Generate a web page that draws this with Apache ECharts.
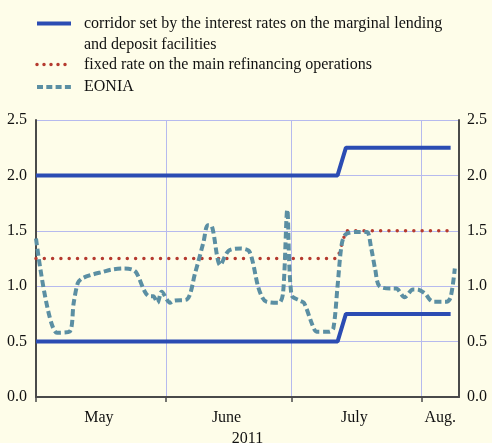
<!DOCTYPE html>
<head>
<meta charset="utf-8">
<title>EONIA corridor</title>
<script src="https://cdn.jsdelivr.net/npm/echarts@6/dist/echarts.min.js"></script>
<style>
  html, body { margin: 0; padding: 0; background: #fefde9; }
</style>
</head>
<body>
<div id="main" style="width:492px;height:443px"></div>
<script type="text/javascript">
// series names (legend)
var corridorName = 'corridor set by the interest rates on the marginal lending and deposit facilities';
var mroName = 'fixed rate on the main refinancing operations';
var eoniaName = 'EONIA';

// policy rates (steps)
var rateDates = ['2011-05-01', '2011-07-12', '2011-07-14', '2011-08-08'];
var upperRate = [2.00, 2.00, 2.25, 2.25];
var lowerRate = [0.50, 0.50, 0.75, 0.75];
var mroRate   = [1.25, 1.25, 1.50, 1.50];

// EONIA
var eoniaDates = [
  '2011-05-01', '2011-05-06', '2011-05-09', '2011-05-10', '2011-05-11', '2011-05-12',
  '2011-05-14', '2011-05-17', '2011-05-19', '2011-05-22', '2011-05-24', '2011-05-25',
  '2011-05-27', '2011-05-28', '2011-05-29', '2011-05-30', '2011-05-31', '2011-06-02',
  '2011-06-03', '2011-06-06', '2011-06-08', '2011-06-10', '2011-06-11', '2011-06-12',
  '2011-06-14', '2011-06-16', '2011-06-19', '2011-06-21', '2011-06-23', '2011-06-24',
  '2011-06-25', '2011-06-28', '2011-06-29', '2011-06-30', '2011-07-01', '2011-07-03',
  '2011-07-04', '2011-07-06', '2011-07-07', '2011-07-10', '2011-07-11', '2011-07-12',
  '2011-07-13', '2011-07-14', '2011-07-17', '2011-07-19', '2011-07-20', '2011-07-21',
  '2011-07-22', '2011-07-25', '2011-07-26', '2011-07-28', '2011-07-30', '2011-07-31',
  '2011-08-02', '2011-08-03', '2011-08-04', '2011-08-07', '2011-08-08', '2011-08-09'
];
var eoniaValues = [
  1.43, 0.58, 0.59, 0.85, 1.03, 1.07,
  1.10, 1.13, 1.15, 1.16, 1.15, 1.12,
  0.95, 0.91, 0.91, 0.85, 0.95, 0.85,
  0.87, 0.88, 1.12, 1.40, 1.55, 1.54,
  1.19, 1.32, 1.34, 1.31, 1.00, 0.90,
  0.86, 0.85, 0.94, 1.69, 0.92, 0.87,
  0.85, 0.65, 0.59, 0.59, 0.62, 1.00,
  1.38, 1.47, 1.49, 1.49, 1.35, 1.15,
  1.00, 0.98, 0.98, 0.90, 0.97, 0.97,
  0.93, 0.88, 0.86, 0.86, 0.90, 1.16
];

// axes
var monthStarts = ['2011-05-01', '2011-06-01', '2011-07-01', '2011-08-01'];
var monthLabelAt = ['2011-05-16', '2011-06-15 12', '2011-07-16', '2011-08-05 12'];
var monthLabels = ['May', 'June', 'July', 'Aug.'];
var xMin = '2011-05-01', xMax = '2011-08-10';

function ts(s) {
  var p = s.split(/[- :]/);
  return new Date(+p[0], +p[1] - 1, +p[2], p[3] ? +p[3] : 0).getTime();
}
function pairs(dates, vals) {
  return dates.map(function (d, i) { return [ts(d), vals[i]]; });
}

var font = '"Liberation Serif", "Times New Roman", serif';
var blue = '#2b4cb3', red = '#b53a2f', teal = '#5b8fa3';
var gridColor = '#b6baee', axisColor = '#4a4a4a';
var blueLine = { color: blue, width: 4 };
var redLine = { color: red, width: 3.5, type: [0, 7], cap: 'round' };
var tealLine = { color: teal, width: 4, type: [7, 3.5] };

var myChart = echarts.init(document.getElementById('main'));
var labelTs = monthLabelAt.map(ts);

var legendText = { fontFamily: font, fontSize: 16, lineHeight: 21, color: '#111', padding: [0, 0, 0, 8] };

var option = {
  backgroundColor: '#fefde9',
  animation: false,
  textStyle: { fontFamily: font },
  legend: [
    {
      data: [{ name: corridorName, lineStyle: blueLine }],
      left: 35, top: -8, padding: 0,
      orient: 'vertical',
      itemWidth: 34, itemHeight: 14,
      itemStyle: { opacity: 0 },
      formatter: function () {
        return ' \ncorridor set by the interest rates on the marginal lending\nand deposit facilities';
      },
      textStyle: legendText
    },
    {
      data: [{ name: mroName, lineStyle: redLine }, { name: eoniaName, lineStyle: { color: teal, width: 4, type: [6, 3.3] } }],
      left: 35, top: 54, padding: 0, itemGap: 1.5,
      orient: 'vertical',
      itemWidth: 34, itemHeight: 14,
      itemStyle: { opacity: 0 },
      textStyle: legendText
    }
  ],
  grid: { left: 36, right: 33, top: 120, bottom: 46, outerBoundsMode: 'none', containLabel: false },
  xAxis: {
    type: 'value',
    min: ts(xMin), max: ts(xMax),
    name: '2011', nameLocation: 'middle', nameGap: 31,
    nameTextStyle: { fontFamily: font, fontSize: 16, color: '#111' },
    axisLine: { show: true, lineStyle: { color: axisColor, width: 2 } },
    axisTick: { show: true, length: 5, customValues: monthStarts.map(ts), lineStyle: { color: axisColor, width: 1.5 } },
    axisLabel: {
      customValues: labelTs,
      margin: 13,
      fontFamily: font, fontSize: 16, color: '#111',
      formatter: function (v) {
        var i = labelTs.indexOf(v);
        return i >= 0 ? monthLabels[i] : '';
      }
    },
    splitLine: { show: true, lineStyle: { color: gridColor, width: 1 } }
  },
  yAxis: [
    {
      type: 'value', min: 0, max: 2.5, interval: 0.5,
      axisLine: { show: true, lineStyle: { color: axisColor, width: 2 } },
      axisTick: { show: false },
      axisLabel: { fontFamily: font, fontSize: 16, color: '#111', margin: 9, formatter: function (v) { return v.toFixed(1); } },
      splitLine: { show: true, lineStyle: { color: gridColor, width: 1 } }
    },
    {
      type: 'value', min: 0, max: 2.5, interval: 0.5, position: 'right',
      axisLine: { show: true, lineStyle: { color: axisColor, width: 2 } },
      axisTick: { show: false },
      axisLabel: { fontFamily: font, fontSize: 16, color: '#111', margin: 8, formatter: function (v) { return v.toFixed(1); } },
      splitLine: { show: false }
    }
  ],
  series: [
    {
      name: corridorName, type: 'line', symbol: 'none', z: 3,
      data: pairs(rateDates, upperRate),
      lineStyle: blueLine, itemStyle: { color: blue }
    },
    {
      name: corridorName, type: 'line', symbol: 'none', z: 3,
      data: pairs(rateDates, lowerRate),
      lineStyle: blueLine, itemStyle: { color: blue }
    },
    {
      name: mroName, type: 'line', symbol: 'none', z: 2,
      data: pairs(rateDates, mroRate),
      lineStyle: { color: red, width: 3.5, type: [0, 8.3], cap: 'round' }, itemStyle: { color: red }
    },
    {
      name: eoniaName, type: 'line', symbol: 'none', z: 4, smooth: 0.3,
      data: pairs(eoniaDates, eoniaValues),
      lineStyle: tealLine, itemStyle: { color: teal }
    }
  ]
};
myChart.setOption(option);
</script>
</body>
